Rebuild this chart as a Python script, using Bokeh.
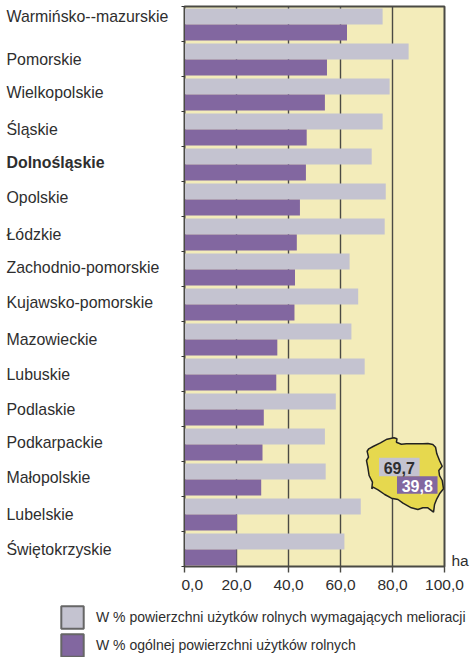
from bokeh.plotting import figure
from bokeh.layouts import row, column
from bokeh.models import Legend, LegendItem, ColumnDataSource, FixedTicker, Range1d, LinearAxis
from bokeh.core.properties import value
from bokeh.embed import file_html
from bokeh.resources import INLINE

categories = ["Warmińsko--mazurskie", "Pomorskie", "Wielkopolskie", "Śląskie", "Dolnośląskie", "Opolskie",
              "Łódzkie", "Zachodnio-pomorskie", "Kujawsko-pomorskie", "Mazowieckie", "Lubuskie", "Podlaskie",
              "Podkarpackie", "Małopolskie", "Lubelskie", "Świętokrzyskie"]
share_requiring = [76.2, 86.2, 78.9, 76.2, 72.0, 77.4, 77.0, 63.5, 66.8, 64.2, 69.3, 58.2, 54.0, 54.3, 67.8, 61.5]
share_total = [62.5, 54.8, 54.0, 47.0, 46.7, 44.4, 43.2, 42.5, 42.3, 35.7, 35.3, 30.5, 30.0, 29.5, 20.2, 20.0]
x_ticks = [0, 20, 40, 60, 80, 100]
x_tick_labels = ["0,0", "20,0", "40,0", "60,0", "80,0", "100,0"]
legend_labels = ["W % powierzchni użytków rolnych wymagających melioracji", "W % ogólnej powierzchni użytków rolnych"]
map_values = ["69,7", "39,8"]
label_py = [16, 59, 92, 129, 162, 197, 234, 267, 302, 339, 374, 409, 442, 477, 514, 549]
map_px_x = [367.3, 369, 373.3, 380.7, 387.3, 394.3, 397.3, 396.7, 401.7, 406.7, 415, 423.3, 428.3, 433.3, 436, 437.3, 440, 442.7, 439.3, 440, 442.7, 444, 440, 437.3, 435, 434, 428.3, 423.3, 418.3, 411.7, 403.3, 398.3, 391.7, 385, 378.3, 373.3, 372, 372.7, 369.3, 368, 366.7, 368.7]
map_px_y = [450.7, 448.3, 446, 442.3, 438.7, 437.3, 438.3, 441.7, 443.7, 443.3, 443.3, 443.3, 443, 444, 446.7, 453.3, 460, 465.7, 470, 475, 480, 488.3, 493.3, 498.3, 504, 511.7, 507.3, 507.3, 509, 507.3, 502.7, 499, 497.7, 494, 489.3, 486.7, 488.3, 481.7, 475, 466.7, 460, 456.7]

GRAY = "#C4C3D0"
PURPLE = "#8267A0"
INK = "#2e2e2e"
LINE = "#4a4a44"
FONT = "Liberation Sans"

PX_PER_UNIT_X = 2.61
PX_PER_BAND = 35.0
n = len(categories)


def fx(v):
    return (v - 184) / PX_PER_UNIT_X


def fy(v):
    return (v - 6) / PX_PER_BAND


y_range = Range1d(n, 0)

# --- chart ---
p = figure(width=290, height=600, output_backend="svg", toolbar_location=None,
           x_range=Range1d(0, 100), y_range=y_range,
           min_border_left=3, min_border_right=26, min_border_top=6, min_border_bottom=34,
           background_fill_color="#F3ECBA", border_fill_color="white",
           outline_line_color=LINE, outline_line_width=2)

p.xgrid.ticker = FixedTicker(ticks=x_ticks)
p.xgrid.grid_line_color = LINE
p.xgrid.grid_line_width = 1.4
p.ygrid.visible = False

p.xaxis.ticker = FixedTicker(ticks=x_ticks)
p.xaxis.major_label_overrides = dict(zip(x_ticks, x_tick_labels))
p.xaxis.major_label_text_font = FONT
p.xaxis.major_label_text_font_size = "15.5px"
p.xaxis.major_label_text_color = INK
p.xaxis.major_label_standoff = 7
p.xaxis.major_tick_out = 6
p.xaxis.major_tick_in = 0
p.xaxis.major_tick_line_color = LINE
p.xaxis.major_tick_line_width = 1.4
p.xaxis.axis_line_color = LINE
p.xaxis.minor_tick_line_color = None

band_edges = list(range(n + 1))
p.yaxis.ticker = FixedTicker(ticks=band_edges)
p.yaxis.major_label_overrides = {e: "" for e in band_edges}
p.yaxis.major_label_standoff = 0
p.yaxis.major_tick_out = 3
p.yaxis.major_tick_in = 0
p.yaxis.major_tick_line_color = "#333333"
p.yaxis.minor_tick_line_color = None
p.yaxis.axis_line_color = LINE

src = ColumnDataSource(dict(
    y1=[i + 10 / PX_PER_BAND for i in range(n)], y2=[i + 26 / PX_PER_BAND for i in range(n)],
    a=share_requiring, b=share_total))
BAR_H = 16 / PX_PER_BAND
p.hbar(y="y1", right="a", left=0, height=BAR_H, source=src, fill_color=GRAY, line_color=None)
p.hbar(y="y2", right="b", left=0, height=BAR_H, source=src, fill_color=PURPLE, line_color=None)

# inset map
p.patch([fx(v) for v in map_px_x], [fy(v) for v in map_px_y],
        fill_color="#E6D84E", line_color="#222222", line_width=1.5)
p.quad(left=[fx(379.3), fx(397.3)], right=[fx(420), fx(438)], top=[fy(457.3), fy(475.7)], bottom=[fy(475.7), fy(493.3)],
       fill_color=[GRAY, PURPLE], line_color=None)
p.text(x=[fx(399.6), fx(417.6)], y=[fy(467), fy(485)], text=map_values, text_color=[INK, "white"],
       text_font=value(FONT), text_font_size="16px", text_font_style="bold",
       text_align="center", text_baseline="middle")

ha_axis = LinearAxis(ticker=FixedTicker(ticks=[fy(560)]), major_label_overrides={fy(560): "ha"},
                     major_tick_line_color=None, minor_tick_line_color=None, axis_line_color=None,
                     major_tick_out=0, major_tick_in=0,
                     major_label_standoff=7, major_label_text_font=FONT, major_label_text_font_size="15.5px",
                     major_label_text_color=INK)
p.add_layout(ha_axis, "right")

# --- category names ---
left = figure(width=181, height=600, output_backend="svg", toolbar_location=None,
              x_range=Range1d(0, 181), y_range=y_range, min_border_left=0, min_border_right=0,
              min_border_top=6, min_border_bottom=34, outline_line_color=None, x_axis_location=None, y_axis_location=None)
left.grid.visible = False
left.text(x=[6] * n, y=[fy(v) for v in label_py], text=categories,
          text_font=value(FONT), text_font_size="15.9px",
          text_font_style=["bold" if c == "Dolnośląskie" else "normal" for c in categories],
          text_color=INK, text_align="left", text_baseline="middle")

# --- legend ---
lg = figure(width=471, height=57, output_backend="svg", toolbar_location=None,
            x_range=Range1d(0, 471), y_range=Range1d(0, 57), min_border=0,
            outline_line_color=None, x_axis_location=None, y_axis_location=None)
lg.grid.visible = False
r1 = lg.rect(x=[-100], y=[-100], width=1, height=1, fill_color=GRAY, line_color="#666666", line_width=2)
r2 = lg.rect(x=[-100], y=[-100], width=1, height=1, fill_color=PURPLE, line_color="#666666", line_width=2)
leg = Legend(items=[LegendItem(label=legend_labels[0], renderers=[r1]), LegendItem(label=legend_labels[1], renderers=[r2])],
             location=(58, -2), orientation="vertical", glyph_width=28, glyph_height=28, spacing=0,
             label_standoff=10, margin=0, padding=0, border_line_color=None, background_fill_alpha=0,
             label_text_font=FONT, label_text_font_size="14px", label_text_color=INK, label_height=28)
lg.add_layout(leg, "center")

open("out.html", "w").write(file_html(column(row(left, p), lg), INLINE))
